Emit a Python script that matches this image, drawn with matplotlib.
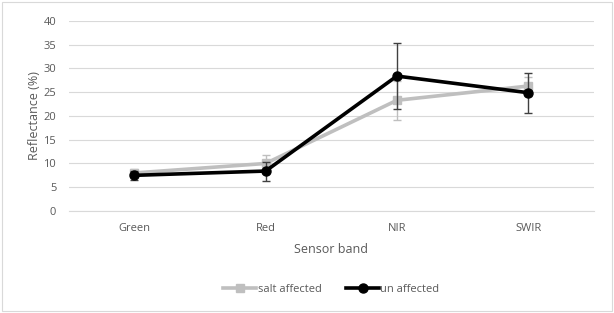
import matplotlib.pyplot as plt
from matplotlib.lines import Line2D
from matplotlib.patches import Rectangle

bands = ["Green", "Red", "NIR", "SWIR"]
salt = [8.0, 10.0, 23.3, 26.3]
salt_err = [0.8, 1.8, 4.1, 2.0]
unaff = [7.5, 8.4, 28.4, 24.9]
unaff_err = [1.0, 2.0, 7.0, 4.2]

plt.rcParams['font.family'] = ['Open Sans', 'DejaVu Sans']
txt = "#595959"

fig = plt.figure(figsize=(6.14, 3.13), dpi=100)
ax = fig.add_axes([0.112, 0.326, 0.855, 0.607])
x = range(len(bands))

ax.errorbar(x, salt, yerr=salt_err, color="#bfbfbf", linewidth=2.6, marker="s",
            markersize=6, ecolor="#bfbfbf", elinewidth=1, capsize=3, zorder=3)
ax.errorbar(x, unaff, yerr=unaff_err, color="black", linewidth=2.6, marker="o",
            markersize=6.5, ecolor="#404040", elinewidth=1, capsize=3, zorder=4)

ax.set_xlim(-0.5, 3.5)
ax.set_ylim(0, 40)
ax.set_yticks(range(0, 41, 5))
ax.set_xticks(list(x))
ax.set_xticklabels(bands)
ax.grid(axis="y", color="#d9d9d9", linewidth=0.8)
ax.set_axisbelow(True)
for s in ["top", "right", "left"]:
    ax.spines[s].set_visible(False)
ax.spines["bottom"].set_color("#d9d9d9")
ax.tick_params(length=0, colors=txt, labelsize=8, pad=9)
ax.set_xlabel("Sensor band", color=txt, fontsize=9, labelpad=6)
ax.set_ylabel("Reflectance (%)", color=txt, fontsize=9, labelpad=2)

handles = [Line2D([], [], color="#bfbfbf", linewidth=2.6, marker="s", markersize=6),
           Line2D([], [], color="black", linewidth=2.6, marker="o", markersize=6.5)]
leg = ax.legend(handles, ["salt affected", "un affected"], loc="upper center",
                bbox_to_anchor=(0.5, -0.33), ncol=2, frameon=False,
                fontsize=8, handlelength=3, columnspacing=2.2, handletextpad=0.1)
for t in leg.get_texts():
    t.set_color(txt)

fig.patches.append(Rectangle((0.003, 0.005), 0.994, 0.99, transform=fig.transFigure,
                             fill=False, edgecolor="#d9d9d9", linewidth=0.8))
fig.savefig("out.png")
